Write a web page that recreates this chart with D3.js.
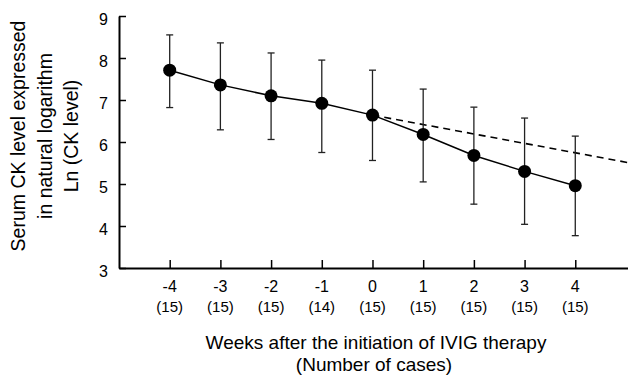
<!DOCTYPE html>
<html>
<head>
<meta charset="utf-8">
<script src="https://cdn.jsdelivr.net/npm/d3@7"></script>
<style>
  body { margin: 0; background: #fff; }
  svg { display: block; font-family: "Liberation Sans", Arial, sans-serif; }
</style>
</head>
<body>
<div class="svg-container"></div>
<script>
const weeks = [-4, -3, -2, -1, 0, 1, 2, 3, 4]
const cases = [15, 15, 15, 14, 15, 15, 15, 15, 15]
const means = [7.71, 7.36, 7.10, 6.92, 6.64, 6.18, 5.68, 5.30, 4.96]
const upper = [8.55, 8.36, 8.12, 7.95, 7.71, 7.26, 6.83, 6.57, 6.14]
const lower = [6.82, 6.29, 6.06, 5.75, 5.56, 5.05, 4.52, 4.04, 3.77]
const trendX = [0, 5.04]
const trendY = [6.64, 5.51]
const yTicks = [3, 4, 5, 6, 7, 8, 9]

const width = 628
const height = 381

const svg = d3.select('.svg-container')
  .append('svg')
  .attr('width', width)
  .attr('height', height)

const xScale = d3.scaleLinear([-5, 5.04], [119, 628])
const yScale = d3.scaleLinear([3, 9], [268, 16])

const xAxis = d3.axisBottom(xScale)
  .tickValues(weeks)
  .tickSizeInner(-8)
  .tickSizeOuter(0)
  .tickFormat('')

const yAxis = d3.axisLeft(yScale)
  .tickValues(yTicks)
  .tickSizeInner(-7)
  .tickSizeOuter(0)
  .tickFormat('')

const gx = svg.append('g')
  .attr('transform', `translate(0, ${yScale(3)})`)
  .call(xAxis)

const gy = svg.append('g')
  .attr('transform', `translate(${xScale(-5)}, 0)`)
  .call(yAxis)

gx.select('.domain').attr('stroke', '#000').attr('stroke-width', 2)
gy.select('.domain').attr('stroke', '#000').attr('stroke-width', 2)
svg.selectAll('.tick line').attr('stroke', '#000').attr('stroke-width', 1.5)

// tick labels
svg.append('g')
  .selectAll('text')
  .data(yTicks)
  .join('text')
  .attr('x', 108)
  .attr('y', d => yScale(d) + 8.5)
  .attr('text-anchor', 'end')
  .attr('font-size', 16)
  .text(d => d)

svg.append('g')
  .selectAll('text')
  .data(weeks)
  .join('text')
  .attr('x', d => xScale(d))
  .attr('y', 291.5)
  .attr('text-anchor', 'middle')
  .attr('font-size', 16)
  .text(d => d)

svg.append('g')
  .selectAll('text')
  .data(weeks)
  .join('text')
  .attr('x', d => xScale(d))
  .attr('y', 312)
  .attr('text-anchor', 'middle')
  .attr('font-size', 15)
  .text((d, i) => `(${cases[i]})`)

// dashed trend
const line = d3.line()
  .x(d => xScale(d[0]))
  .y(d => yScale(d[1]))

svg.append('path')
  .datum(trendX.map((x, i) => [x, trendY[i]]))
  .attr('d', line)
  .attr('fill', 'none')
  .attr('stroke', '#000')
  .attr('stroke-width', 1.6)
  .attr('stroke-dasharray', '7,5')

// error bars
const bars = svg.append('g')
  .attr('stroke', '#222')
  .attr('stroke-width', 1.3)

weeks.forEach((w, i) => {
  const x = xScale(w)
  bars.append('line')
    .attr('x1', x).attr('x2', x)
    .attr('y1', yScale(upper[i])).attr('y2', yScale(lower[i]))
  bars.append('line')
    .attr('x1', x - 3.5).attr('x2', x + 3.5)
    .attr('y1', yScale(upper[i])).attr('y2', yScale(upper[i]))
  bars.append('line')
    .attr('x1', x - 3.5).attr('x2', x + 3.5)
    .attr('y1', yScale(lower[i])).attr('y2', yScale(lower[i]))
})

// mean line and markers
svg.append('path')
  .datum(weeks.map((w, i) => [w, means[i]]))
  .attr('d', line)
  .attr('fill', 'none')
  .attr('stroke', '#000')
  .attr('stroke-width', 1.5)

svg.append('g')
  .selectAll('circle')
  .data(weeks)
  .join('circle')
  .attr('cx', d => xScale(d))
  .attr('cy', (d, i) => yScale(means[i]))
  .attr('r', 6.5)
  .attr('fill', '#000')

// axis titles
const xTitle = svg.append('text')
  .attr('text-anchor', 'middle')
  .attr('font-size', 19)
xTitle.append('tspan').attr('x', 376).attr('y', 349).text('Weeks after the initiation of IVIG therapy')
xTitle.append('tspan').attr('x', 374).attr('y', 371).text('(Number of cases)')

const yTitle = svg.append('text')
  .attr('text-anchor', 'middle')
  .attr('font-size', 19.5)
  .attr('transform', 'rotate(-90)')
yTitle.append('tspan').attr('x', -136).attr('y', 25).text('Serum CK level expressed')
yTitle.append('tspan').attr('x', -136).attr('y', 51.5).text('in natural logarithm')
yTitle.append('tspan').attr('x', -136).attr('y', 78).text('Ln (CK level)')
</script>
</body>
</html>
